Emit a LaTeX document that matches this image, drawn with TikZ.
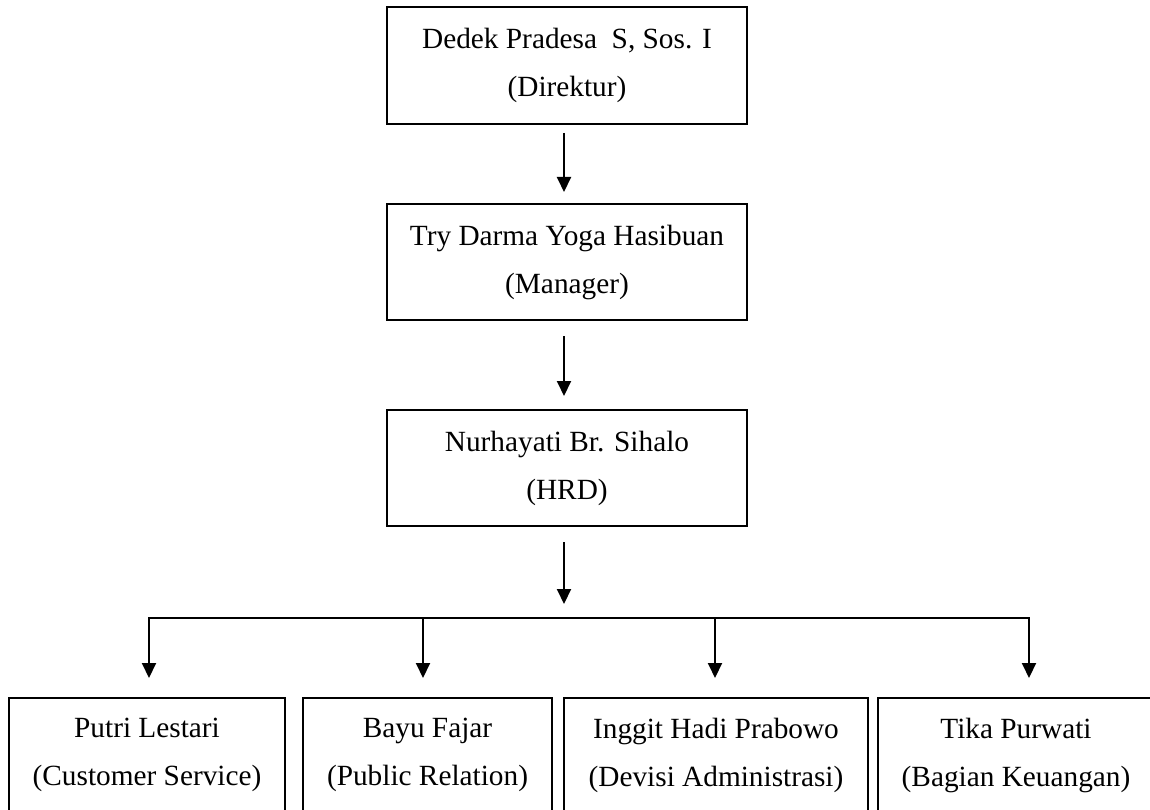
\documentclass[tikz,border=0pt]{standalone}
\usepackage{fontspec}
\setmainfont{Liberation Serif}
\usetikzlibrary{arrows.meta}
\begin{document}
\begin{tikzpicture}[x=1pt,y=-1pt,
  box/.style={draw,line width=2pt,align=center,inner sep=0pt,font=\fontsize{29.3}{48}\selectfont},
  arr/.style={line width=2pt,-{Triangle[length=15pt,width=14pt]}},
  busline/.style={line width=2pt,line cap=rect}]
\useasboundingbox (0,0) rectangle (1150,810);
\clip (0,0) rectangle (1150,810);
% top chain
\node[box,minimum width=360pt,minimum height=117pt] (dir) at (567,65.5) {Dedek Pradesa\ \ S, Sos. I\\(Direktur)};
\node[box,minimum width=360pt,minimum height=116pt] (man) at (567,262) {Try Darma Yoga Hasibuan\\(Manager)};
\node[box,minimum width=360pt,minimum height=116pt] (hrd) at (567,468) {Nurhayati Br. Sihalo\\(HRD)};
% bottom row
\node[box,minimum width=276pt,minimum height=114pt] (cs) at (147,755) {Putri Lestari\\(Customer Service)};
\node[box,minimum width=249pt,minimum height=114pt] (pr) at (427.5,755) {Bayu Fajar\\(Public Relation)};
\node[box,minimum width=304pt,minimum height=114pt] (da) at (716,755) {Inggit Hadi Prabowo\\(Devisi Administrasi)};
\node[box,minimum width=276pt,minimum height=114pt] (bk) at (1016,755) {Tika Purwati\\(Bagian Keuangan)};
% vertical arrows in the chain
\draw[arr] ([xshift=-3pt,yshift=-8pt]dir.south) -- ([xshift=-3pt,yshift=11pt]man.north);
\draw[arr] ([xshift=-3pt,yshift=-15pt]man.south) -- ([xshift=-3pt,yshift=13pt]hrd.north);
\draw[arr] ([xshift=-3pt,yshift=-15pt]hrd.south) -- ([xshift=-3pt,yshift=-77pt]hrd.south);
% bus
\coordinate (b1) at (149,618);
\coordinate (b2) at (423,618);
\coordinate (b3) at (715,618);
\coordinate (b4) at (1029,618);
\draw[busline] (b1) -- (b4);
\draw[arr] (b1) -- ([yshift=19pt]cs.north -| b1);
\draw[arr] (b2) -- ([yshift=19pt]pr.north -| b2);
\draw[arr] (b3) -- ([yshift=19pt]da.north -| b3);
\draw[arr] (b4) -- ([yshift=19pt]bk.north -| b4);
\end{tikzpicture}
\end{document}
